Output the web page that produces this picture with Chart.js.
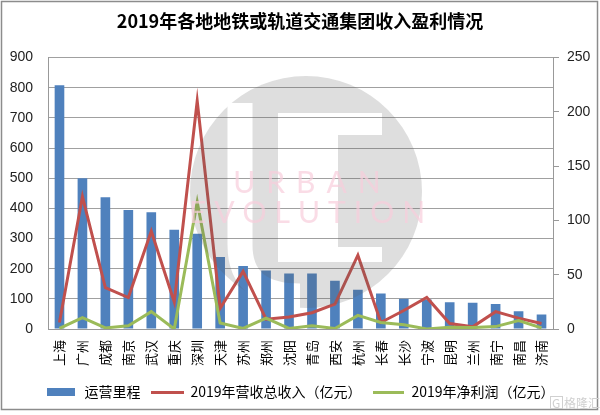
<!DOCTYPE html>
<html>
<head>
<meta charset="utf-8">
<script src="https://cdn.jsdelivr.net/npm/chart.js@4"></script>
<style>
  html, body { margin: 0; padding: 0; background: #fff; }
  #wrap { width: 600px; height: 415px; }
</style>
</head>
<body>
<div id="wrap"><canvas id="chart"></canvas></div>
<script>
// data
const cities = ['上海', '广州', '成都', '南京', '武汉', '重庆', '深圳', '天津', '苏州', '郑州', '沈阳',
                '青岛', '西安', '杭州', '长春', '长沙', '宁波', '昆明', '兰州', '南宁', '南昌', '济南'];
const mileage = [808, 500, 437, 395, 387, 329, 316, 239, 209, 194, 184,
                 184, 160, 130, 118, 100, 98, 89, 87, 83, 59, 48];
const revenue = [6, 122, 38, 29, 90, 25, 210, 19, 53, 9, 11,
                 15, 23, 68, 6, 17, 29, 5, 2, 16, 10, 5];
const profit = [0.5, 10.5, 1, 3, 16, 0, 117, 5.5, 0.5, 10, 0.5,
                3, 0.5, 12.5, 6, 4, 0, 1.5, 1.3, 2.2, 7.8, 1];
const leftTicks = [0, 100, 200, 300, 400, 500, 600, 700, 800, 900];
const rightTicks = [0, 50, 100, 150, 200, 250];

const BLUE = '#4F81BD', RED = '#C0504D', GREEN = '#9BBB59';
const CJK = '"Noto Sans CJK SC", sans-serif';

function marker(w, h, color) {
  const c = document.createElement('canvas');
  c.width = w; c.height = h;
  const g = c.getContext('2d');
  g.fillStyle = color;
  g.fillRect(0, 0, w, h);
  return c;
}
const markers = [marker(28, 8, BLUE), marker(33, 3, RED), marker(31, 3, GREEN)];

// white background + frame + watermark
const decor = {
  id: 'decor',
  beforeDraw(chart) {
    const ctx = chart.ctx;
    ctx.save();
    ctx.fillStyle = '#fff';
    ctx.fillRect(0, 0, chart.width, chart.height);
    ctx.restore();
  },
  afterDatasetsDraw(chart) {
    const ctx = chart.ctx;
    // gray disc with the UE logo cut out
    const off = document.createElement('canvas');
    off.width = chart.width; off.height = chart.height;
    const o = off.getContext('2d');
    o.fillStyle = 'rgba(90,90,90,0.2)';
    o.beginPath();
    o.arc(306, 192, 116, 0, Math.PI * 2);
    o.fill();
    o.globalCompositeOperation = 'destination-out';
    o.fillStyle = '#000';
    o.strokeStyle = '#000';
    o.lineWidth = 25;
    o.beginPath();
    o.moveTo(240, 103);
    o.lineTo(240, 245);
    o.quadraticCurveTo(240, 296, 300, 296);
    o.stroke();
    o.fillRect(278, 113, 60, 149);
    o.fillRect(278, 113, 104, 22);
    o.fillRect(278, 247, 104, 15);
    ctx.save();
    ctx.drawImage(off, 0, 0);
    // pink lettering
    ctx.fillStyle = 'rgba(248,205,220,0.7)';
    ctx.font = '30px Lato, sans-serif';
    ctx.textBaseline = 'middle';
    const spaced = (txt, cx, cy, gap) => {
      const ws = [...txt].map(ch => ctx.measureText(ch).width);
      const total = ws.reduce((a, b) => a + b, 0) + gap * (txt.length - 1);
      let x = cx - total / 2;
      [...txt].forEach((ch, i) => { ctx.fillText(ch, x, cy); x += ws[i] + gap; });
    };
    spaced('URBAN', 307, 183, 11);
    spaced('EVOLUTION', 307, 213, 8);
    ctx.restore();
  },
  afterDraw(chart) {
    const ctx = chart.ctx;
    ctx.save();
    ctx.strokeStyle = '#8c8c8c';
    ctx.lineWidth = 1.5;
    ctx.strokeRect(1.5, 1.5, 596, 408);
    // source mark bottom right
    ctx.strokeStyle = '#d0d0d0';
    ctx.lineWidth = 1;
    ctx.strokeRect(550.5, 396.5, 12, 12);
    ctx.fillStyle = '#d0d0d0';
    ctx.font = '12px ' + CJK;
    ctx.textBaseline = 'middle';
    ctx.fillText('G', 552, 403);
    ctx.fillText('格隆汇', 564, 403);
    ctx.restore();
  }
};

const legendGen = Chart.defaults.plugins.legend.labels.generateLabels;

new Chart(document.getElementById('chart').getContext('2d'), {
  data: {
    labels: cities,
    datasets: [
      {
        type: 'bar',
        label: '运营里程',
        data: mileage,
        backgroundColor: BLUE,
        yAxisID: 'y',
        categoryPercentage: 0.42,
        barPercentage: 1,
        order: 3
      },
      {
        type: 'line',
        label: '2019年营收总收入（亿元）',
        data: revenue,
        borderColor: RED,
        backgroundColor: RED,
        borderWidth: 3,
        pointRadius: 0,
        tension: 0,
        yAxisID: 'y1',
        order: 2
      },
      {
        type: 'line',
        label: '2019年净利润（亿元）',
        data: profit,
        borderColor: GREEN,
        backgroundColor: GREEN,
        borderWidth: 3,
        pointRadius: 0,
        tension: 0,
        yAxisID: 'y1',
        order: 1
      }
    ]
  },
  options: {
    responsive: true,
    maintainAspectRatio: false,
    animation: false,
    layout: { padding: { left: 0, right: 0, top: 0, bottom: 6 } },
    plugins: {
      title: {
        display: true,
        text: '2019年各地地铁或轨道交通集团收入盈利情况',
        color: '#000',
        font: { family: CJK, size: 18, weight: 'bold' },
        padding: { top: 10, bottom: 26 }
      },
      legend: {
        position: 'bottom',
        labels: {
          color: '#000',
          font: { family: CJK, size: 14 },
          usePointStyle: true,
          pointStyleWidth: 32,
          padding: 11,
          sort: (a, b) => a.datasetIndex - b.datasetIndex,
          generateLabels(chart) {
            const items = legendGen(chart);
            items.forEach(it => { it.pointStyle = markers[it.datasetIndex]; });
            return items;
          }
        }
      },
      tooltip: { enabled: false }
    },
    scales: {
      x: {
        grid: { display: false, drawTicks: false },
        border: { color: '#999' },
        ticks: {
          color: '#000',
          font: { family: CJK, size: 13 },
          autoSkip: false,
          minRotation: 90,
          maxRotation: 90,
          padding: 11
        },
        afterFit(scale) { scale.height = 45; }
      },
      y: {
        position: 'left',
        min: 0,
        max: 900,
        afterBuildTicks(scale) { scale.ticks = leftTicks.map(v => ({ value: v })); },
        grid: { color: '#a0a0a0', drawTicks: false },
        border: { color: '#999' },
        ticks: {
          color: '#222',
          font: { family: '"Liberation Sans", sans-serif', size: 14 },
          padding: 15
        },
        afterFit(scale) { scale.width = 48; }
      },
      y1: {
        position: 'right',
        min: 0,
        max: 250,
        afterBuildTicks(scale) { scale.ticks = rightTicks.map(v => ({ value: v })); },
        grid: { drawOnChartArea: false, color: '#999', tickLength: 6 },
        border: { color: '#999' },
        ticks: {
          color: '#222',
          font: { family: '"Liberation Sans", sans-serif', size: 14 },
          padding: 8
        },
        afterFit(scale) { scale.width = 47; }
      }
    }
  },
  plugins: [decor]
});
</script>
</body>
</html>
